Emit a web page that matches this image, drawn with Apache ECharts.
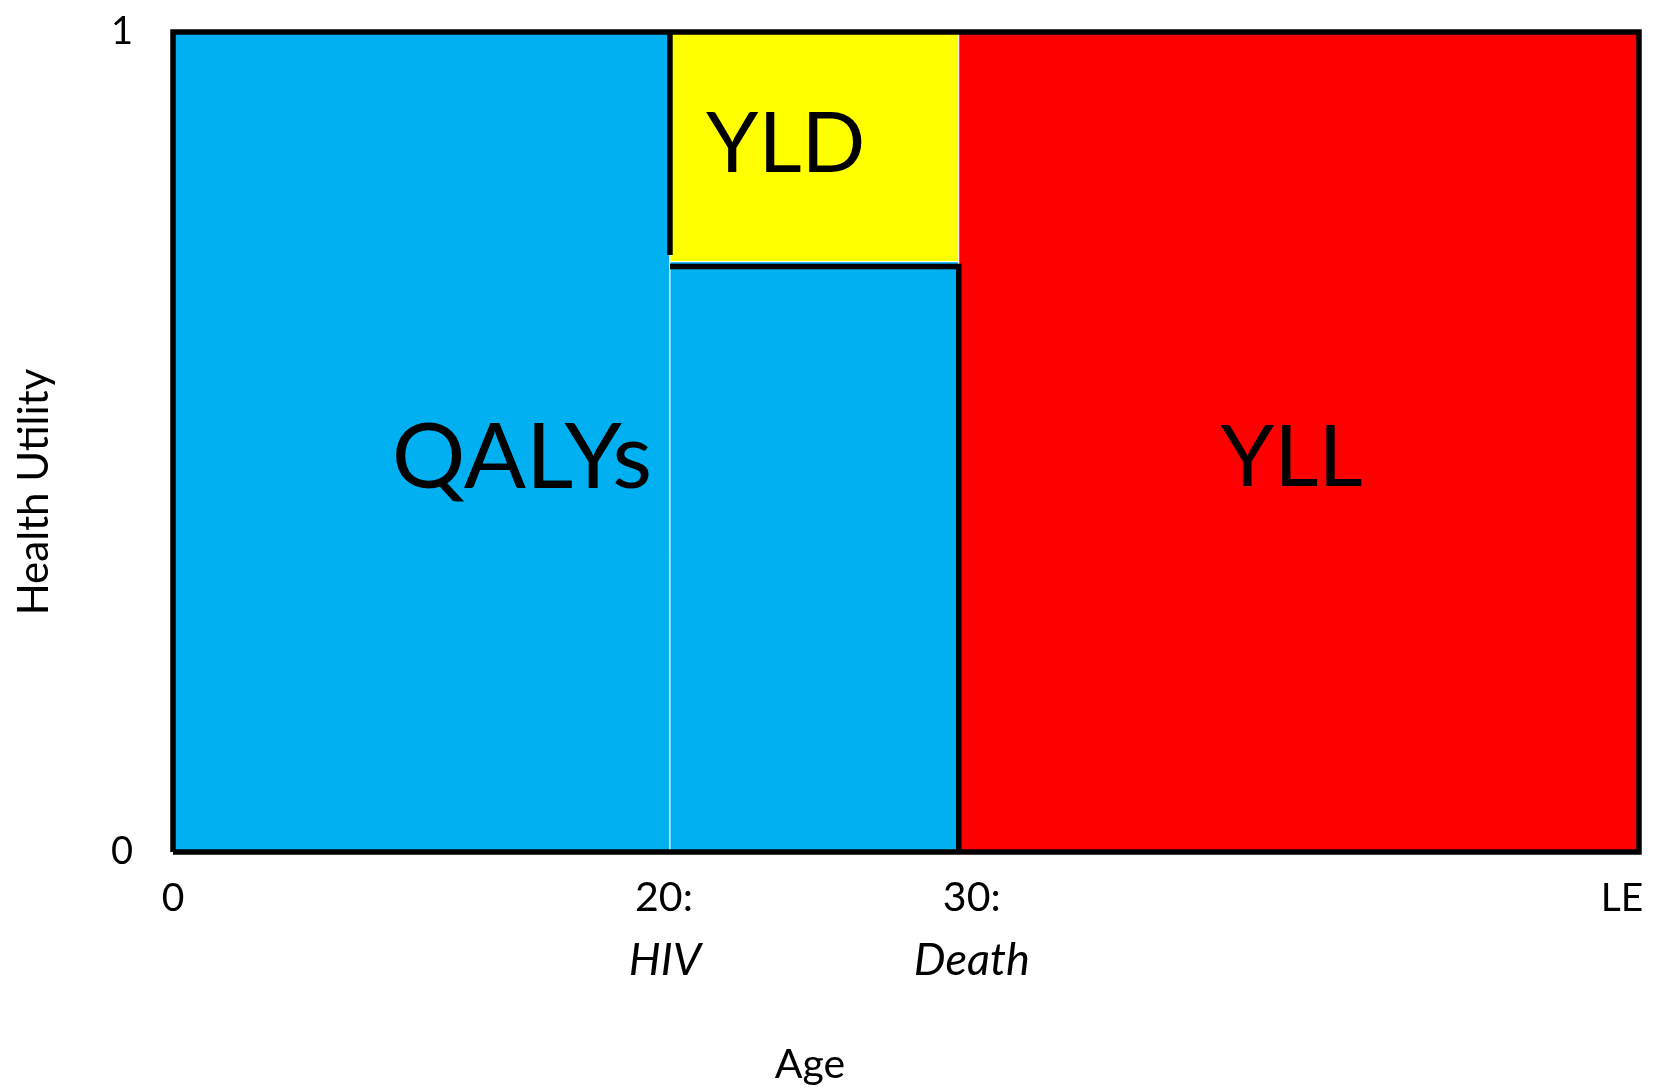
<!DOCTYPE html>
<html>
<head>
<meta charset="utf-8">
<style>
  html, body { margin: 0; padding: 0; background: #fff; }
  #chart { width: 1660px; height: 1091px; }
</style>
<script src="https://cdn.jsdelivr.net/npm/echarts@6/dist/echarts.min.js"></script>
</head>
<body>
<div id="chart"></div>
<script>
// axis positions of the marked ages (the age axis is not drawn to scale)
const ageTicks = [0, 33.9, 53.6, 100]
const ageLabels = ['0', '{a|20:}\n{ai|HIV}', '{b|30:}\n{bi|Death}', '{r|LE}']
const utilityTicks = [0, 1]

// regions: left, right, bottom, top, kind
const regionX0 = [0, 33.9, 33.9, 53.6]
const regionX1 = [33.9, 53.6, 53.6, 100]
const regionY0 = [0, 0, 0.72, 0]
const regionY1 = [1, 0.72, 1, 1]
const regionKind = ['QALYs', 'QALYs', 'YLD', 'YLL']

const regionNames = ['QALYs', 'YLD', 'YLL']

const colors = { QALYs: '#00B0F0', YLD: '#FFFF00', YLL: '#FF0000' }
const font = 'Lato, "Open Sans", sans-serif'

const chart = echarts.init(document.getElementById('chart'))

const rectData = regionKind.map((k, i) => [regionX0[i], regionX1[i], regionY0[i], regionY1[i], i])

// black outline segments, built from the region edges
const hiv = regionX0[1], death = regionX1[1], yld = regionY1[1]
const segs = [
	[[0, 0], [100, 0], [100, 1], [0, 1], [0, 0]],
	[[hiv, 1], [hiv, yld + 0.008]],
	[[hiv, yld - 0.006], [death, yld - 0.006], [death, 0]]
]

const labelPos = { QALYs: [23.8, 0.48], YLD: [41.8, 0.862], YLL: [76.3, 0.48] }
const labelSize = { QALYs: 92, YLD: 84, YLL: 86 }

chart.setOption({
	animation: false,
	backgroundColor: '#fff',
	grid: { left: 173, right: 21, top: 32, bottom: 239, outerBoundsMode: 'none', containLabel: false },
	xAxis: {
		type: 'value',
		min: 0,
		max: 100,
		name: 'Age',
		nameLocation: 'middle',
		nameGap: 192,
		nameTextStyle: { fontFamily: font, fontSize: 41, color: '#000', padding: [0, 192, 0, 0] },
		axisLine: { show: false },
		axisTick: { show: false },
		splitLine: { show: false },
		axisLabel: {
			customValues: ageTicks,
			margin: 15,
			verticalAlign: 'top',
			fontFamily: font,
			fontSize: 39,
			color: '#000',
			lineHeight: 62,
			formatter: v => ageLabels[ageTicks.indexOf(v)] || '',
			rich: {
				a: { fontFamily: font, fontSize: 41, lineHeight: 62, padding: [0, 12, 0, 0] },
				ai: { fontFamily: font, fontSize: 45, lineHeight: 62, fontStyle: 'italic', padding: [0, 10, 0, 0] },
				b: { fontFamily: font, fontSize: 41, lineHeight: 62, padding: [0, 0, 0, 26] },
				bi: { fontFamily: font, fontSize: 45, lineHeight: 62, fontStyle: 'italic', padding: [0, 0, 0, 26] },
				r: { fontFamily: font, fontSize: 39, lineHeight: 62, padding: [0, 34, 0, 0] }
			}
		}
	},
	yAxis: {
		type: 'value',
		min: 0,
		max: 1,
		interval: 1,
		name: 'Health Utility',
		nameLocation: 'middle',
		nameGap: 118,
		nameTextStyle: { fontFamily: font, fontSize: 42, color: '#000', padding: [0, 100, 0, 0] },
		axisLine: { show: false },
		axisTick: { show: false },
		splitLine: { show: false },
		axisLabel: {
			margin: 40,
			padding: [0, 0, 14, 0],
			fontFamily: font,
			fontSize: 38,
			color: '#000',
			formatter: v => (utilityTicks.includes(v) ? String(v) : '')
		}
	},
	series: [
		{
			type: 'custom',
			coordinateSystem: 'cartesian2d',
			data: rectData,
			z: 1,
			renderItem: (params, api) => {
				const p0 = api.coord([api.value(0), api.value(3)])
				const p1 = api.coord([api.value(1), api.value(2)])
				const kind = regionKind[api.value(4)]
				return {
					type: 'rect',
					shape: { x: p0[0], y: p0[1], width: p1[0] - p0[0], height: p1[1] - p0[1] },
					style: { fill: colors[kind], stroke: '#fff', lineWidth: 1 }
				}
			}
		},
		{
			type: 'custom',
			coordinateSystem: 'cartesian2d',
			data: segs.map((s, i) => [i]),
			z: 3,
			renderItem: (params, api) => {
				const pts = segs[params.dataIndex].map(p => api.coord(p))
				return {
					type: 'polyline',
					shape: { points: pts },
					style: { fill: null, stroke: '#000', lineWidth: 5.5, lineJoin: 'miter' }
				}
			}
		},
		{
			type: 'custom',
			coordinateSystem: 'cartesian2d',
			data: regionNames.map(n => labelPos[n]),
			z: 4,
			renderItem: (params, api) => {
				const name = regionNames[params.dataIndex]
				const p = api.coord([api.value(0), api.value(1)])
				return {
					type: 'text',
					x: p[0],
					y: p[1],
					style: {
						text: name,
						fontFamily: font,
						fontSize: labelSize[name],
						fill: '#000',
						align: 'center',
						verticalAlign: 'middle'
					}
				}
			}
		}
	]
})

window.addEventListener('resize', () => chart.resize())
</script>
</body>
</html>
